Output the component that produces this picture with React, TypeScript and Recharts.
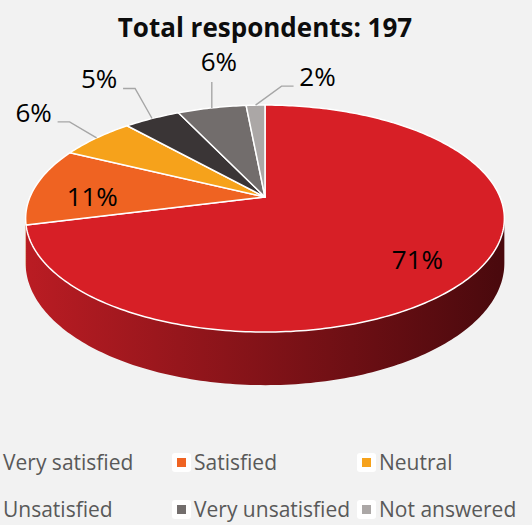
import React from 'react';
import { PieChart, Pie, Cell, Legend } from 'recharts';

// ---------- data ----------
const categories = ['Very satisfied', 'Satisfied', 'Neutral', 'Unsatisfied', 'Very unsatisfied', 'Not answered'];
const respondents = [140, 22, 12, 9, 11, 3];
const percentLabels = ['71%', '11%', '6%', '5%', '6%', '2%'];
const totalRespondents = 197;
const titleText = `Total respondents: ${totalRespondents}`;

// ---------- styles ----------
const sliceColors = ['#d71f26', '#ef6322', '#f6a21b', '#3a3536', '#726d6c', '#aba7a6'];
const wallLight = ['#b91c23', '#c8501a', '#cc8614', '#2e2a2b', '#5c5857', '#8c8988'];
const wallDark = ['#4a090d', '#6a2a0c', '#6e480a', '#161414', '#2e2c2b', '#464443'];

const W = 532;
const H = 525;
const CX = 265;
const CY = 197;
const RX = 235;
const TILT = 0.4655;
const PERSP = 0.19;
const DEPTH = 43;
const RAD = Math.PI / 180;
const FONT = '"Open Sans", "Noto Sans", sans-serif';

// label placement (offset of the text centre from the slice's outer edge point)
const outsideLabelOffset: Record<number, [number, number]> = {
  2: [-63, -25],
  3: [-53, -39],
  4: [7, -46],
  5: [62, -28],
};

const data = categories.map((name, i) => ({ name, value: respondents[i], label: percentLabels[i] }));

function project(cx: number, cy: number, r: number, angleDeg: number, frac = 1, depth = 0) {
  const X = Math.cos(angleDeg * RAD) * frac;
  const Y = -Math.sin(angleDeg * RAD) * frac;
  const w = 1 - PERSP * Y;
  return { x: cx + (r * X) / w, y: cy + (r * TILT * Y) / w + depth / w };
}

function arc(cx: number, cy: number, r: number, a1: number, a2: number, depth = 0) {
  const n = Math.max(2, Math.ceil(Math.abs(a2 - a1)));
  const pts: { x: number; y: number }[] = [];
  for (let i = 0; i <= n; i++) {
    pts.push(project(cx, cy, r, a1 + ((a2 - a1) * i) / n, 1, depth));
  }
  return pts;
}

const renderSlice = (props: any) => {
  const { cx, cy, outerRadius, startAngle, endAngle, midAngle, index, percent } = props;
  const r = outerRadius;
  const hi = Math.max(startAngle, endAngle);
  const lo = Math.min(startAngle, endAngle);
  const frontLo = -180 + Math.asin(PERSP) / RAD;
  const frontHi = -Math.asin(PERSP) / RAD;
  const wLo = Math.max(lo, frontLo);
  const wHi = Math.min(hi, frontHi);

  let wall: React.ReactNode = null;
  if (wHi > wLo) {
    const top = arc(cx, cy, r, wHi, wLo, 0);
    const bottom = arc(cx, cy, r, wLo, wHi, DEPTH);
    const d =
      'M' + top.map((p) => `${p.x.toFixed(2)},${p.y.toFixed(2)}`).join('L') +
      'L' + bottom.map((p) => `${p.x.toFixed(2)},${p.y.toFixed(2)}`).join('L') + 'Z';
    wall = (
      <g>
        <defs>
          <linearGradient id={`wall-${index}`} gradientUnits="userSpaceOnUse" x1={cx - r} y1={0} x2={cx + r} y2={0}>
            <stop offset="0%" stopColor={wallLight[index]} />
            <stop offset="100%" stopColor={wallDark[index]} />
          </linearGradient>
        </defs>
        <path d={d} fill={`url(#wall-${index})`} stroke="none" />
      </g>
    );
  }

  const topPts = arc(cx, cy, r, startAngle, endAngle, 0);
  const topD =
    `M${cx},${cy}L` + topPts.map((p) => `${p.x.toFixed(2)},${p.y.toFixed(2)}`).join('L') + 'Z';

  let labelNode: React.ReactNode = null;
  if (percent >= 0.1) {
    const p = project(cx, cy, r, midAngle, 0.75, 0);
    labelNode = (
      <text x={p.x} y={p.y + 17} textAnchor="middle" fontFamily={FONT} fontSize={26} fill="#000">
        {percentLabels[index]}
      </text>
    );
  } else {
    const edge = project(cx, cy, r, midAngle, 1, 0);
    const off = outsideLabelOffset[index] || [0, -40];
    const tx = edge.x + off[0];
    const ty = edge.y + off[1];
    let line: string;
    if (Math.abs(edge.x - tx) < 22) {
      line = `M${edge.x},${ty + 20}L${edge.x},${edge.y}`;
    } else {
      const side = edge.x > tx ? 1 : -1;
      const sx = tx + side * 24;
      const sy = ty + 9;
      line = `M${sx},${sy}L${sx + side * 12},${sy}L${edge.x},${edge.y}`;
    }
    labelNode = (
      <g>
        <path d={line} fill="none" stroke="#a6a6a6" strokeWidth={1.4} />
        <text x={tx} y={ty + 9} textAnchor="middle" fontFamily={FONT} fontSize={26} fill="#000">
          {percentLabels[index]}
        </text>
      </g>
    );
  }

  return (
    <g>
      {wall}
      <path d={topD} fill={sliceColors[index]} stroke="#ffffff" strokeWidth={1.5} strokeLinejoin="round" />
      {labelNode}
    </g>
  );
};

const legendColumns = [-19, 172, 357];
const legendRowGap = 47;

const renderLegend = () => {
  return (
    <div style={{ position: 'relative', width: W, height: 70 }}>
      {categories.map((name, i) => {
        const col = i % 3;
        const row = Math.floor(i / 3);
        return (
          <div
            key={name}
            style={{
              position: 'absolute',
              left: legendColumns[col],
              top: row * legendRowGap,
              height: 20,
              display: 'flex',
              alignItems: 'center',
              whiteSpace: 'nowrap',
            }}
          >
            <span
              style={{
                width: 19,
                height: 19,
                borderRadius: 3,
                background: '#ffffff',
                display: 'flex',
                alignItems: 'center',
                justifyContent: 'center',
                marginRight: 3,
              }}
            >
              <span style={{ width: 9, height: 9, background: sliceColors[i] }} />
            </span>
            <span style={{ fontFamily: FONT, fontSize: 21, color: '#595959', lineHeight: '20px' }}>{name}</span>
          </div>
        );
      })}
    </div>
  );
};

export default function App() {
  return (
    <div style={{ position: 'absolute', left: 0, top: 0, width: W, height: H, background: '#f2f2f2', overflow: 'hidden' }}>
      <PieChart width={W} height={H} margin={{ top: 0, right: 0, bottom: 0, left: 0 }}>
        <text x={265} y={37} textAnchor="middle" fontFamily={FONT} fontWeight={700} fontSize={26} fill="#0d0d0d">
          {titleText}
        </text>
        <Pie
          data={data}
          dataKey="value"
          nameKey="name"
          cx={CX}
          cy={CY}
          outerRadius={RX}
          startAngle={90}
          endAngle={-270}
          stroke="none"
          label={renderSlice}
          labelLine={false}
          isAnimationActive={false}
        >
          {data.map((d, i) => (
            <Cell key={d.name} fill={sliceColors[i]} fillOpacity={0} />
          ))}
        </Pie>
        <Legend
          content={renderLegend}
          wrapperStyle={{ position: 'absolute', left: 0, top: 452, width: W, height: 70 }}
        />
      </PieChart>
    </div>
  );
}
